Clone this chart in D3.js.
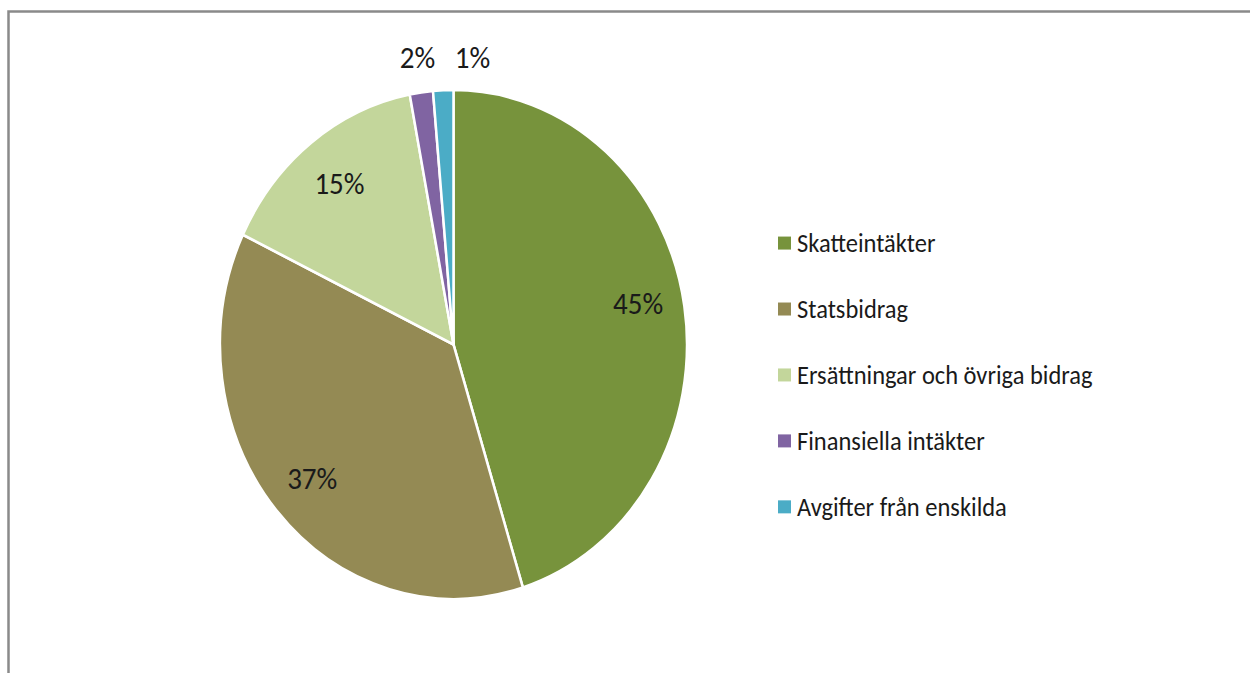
<!DOCTYPE html>
<html>
  <head>
    <meta charset="utf-8">
    <title>Intäkter</title>
    <style>
      body { margin: 0; background: #fff; }
      text { font-family: Carlito, Calibri, 'Open Sans', sans-serif; fill: #1a1a1a; }
      .lbl { font-size: 29px; }
      .legend text { font-size: 24.5px; }
    </style>
  </head>
  <body>
    <div id="chart"></div>
    <script src="https://cdn.jsdelivr.net/npm/d3@7"></script>
    <script>
      // data
      var categories = ['Skatteintäkter', 'Statsbidrag', 'Ersättningar och övriga bidrag',
                        'Finansiella intäkter', 'Avgifter från enskilda'];
      var shares = [45.2, 36.9, 14.9, 1.6, 1.4];
      var colors = ['#77933C', '#948A54', '#C3D69B', '#8064A2', '#4BACC6'];

      var width = 1250, height = 673;
      var stretch = 1.09;           // the original picture is a bit taller than wide
      var radius = 233.5;
      var cx = 453.5, cy = 344.5 / stretch;

      var data = categories.map(function(c, i) { return { name: c, value: shares[i] }; });
      var total = d3.sum(shares);

      var svg = d3.select('#chart').append('svg')
        .attr('width', width)
        .attr('height', height);

      // chart frame (only top and left edges are visible)
      svg.append('rect')
        .attr('x', 8.5).attr('y', 11.5)
        .attr('width', 1400).attr('height', 800)
        .attr('fill', 'none')
        .attr('stroke', '#8a8a8a')
        .attr('stroke-width', 2.5);

      var g = svg.append('g').attr('transform', 'scale(1,' + stretch + ')');

      var color = d3.scaleOrdinal().domain(categories).range(colors);

      var pie = d3.pie().value(function(d) { return d.value; }).sort(null);
      var arc = d3.arc().innerRadius(0).outerRadius(radius);
      var labelArc = d3.arc().innerRadius(radius * 0.8).outerRadius(radius * 0.8);
      var outerArc = d3.arc().innerRadius(radius * 1.12).outerRadius(radius * 1.12);

      var pg = g.append('g').attr('transform', 'translate(' + cx + ',' + cy + ')');
      var arcs = pie(data);

      pg.selectAll('path')
        .data(arcs)
        .enter().append('path')
        .attr('d', arc)
        .attr('fill', function(d) { return color(d.data.name); })
        .attr('stroke', '#fff')
        .attr('stroke-width', 2.5)
        .attr('stroke-linejoin', 'round');

      // labels: big slices inside, small ones above the pie, spread apart
      var lastX = -Infinity;
      arcs.forEach(function(d) {
        var pct = d.value / total * 100;
        var p;
        if (pct < 5) {
          p = outerArc.centroid(d);
          p[1] = -radius - 30;
          if (p[0] < lastX + 55) p[0] = lastX + 55;
          lastX = p[0];
        } else {
          p = labelArc.centroid(d);
          if (d.index === 0) p[1] -= 10;   // excel's best-fit nudges this one up a little
        }
        d.lx = p[0]; d.ly = p[1];
      });

      pg.selectAll('.lbl')
        .data(arcs)
        .enter().append('text')
        .attr('class', 'lbl')
        .attr('x', function(d) { return d.lx; })
        .attr('y', function(d) { return d.ly; })
        .attr('text-anchor', 'middle')
        .attr('dominant-baseline', 'central')
        .text(function(d) { return Math.round(d.value / total * 100) + '%'; });

      // legend
      var legendRectSize = 13;
      var legendSpacing = 60.5;
      var legend = g.selectAll('.legend')
        .data(color.domain())
        .enter().append('g')
        .attr('class', 'legend')
        .attr('transform', function(d, i) {
          return 'translate(778,' + (223 + i * legendSpacing) + ')';
        });

      legend.append('rect')
        .attr('y', -legendRectSize / 2 / stretch)
        .attr('width', legendRectSize)
        .attr('height', legendRectSize / stretch)
        .style('fill', color);

      legend.append('text')
        .attr('x', 19)
        .attr('y', 0)
        .attr('dominant-baseline', 'central')
        .text(function(d) { return d; });
    </script>
  </body>
</html>
